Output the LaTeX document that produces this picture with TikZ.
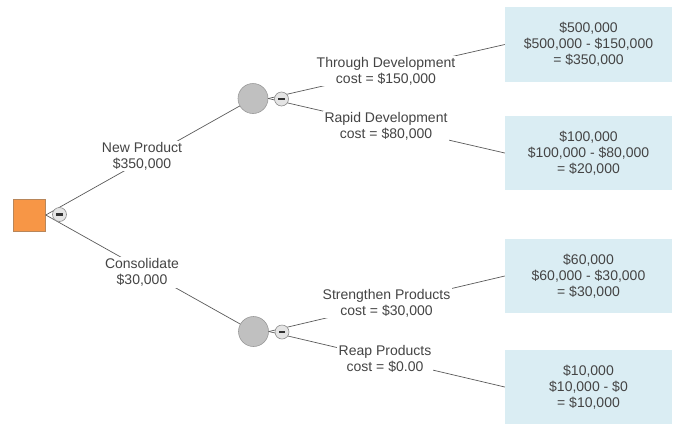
\documentclass[tikz,border=0pt]{standalone}
\usepackage{fontspec}
\setmainfont{Liberation Sans}
\definecolor{txt}{HTML}{444444}
\definecolor{linec}{HTML}{5A5A5A}
\definecolor{boxc}{HTML}{DAEDF3}
\definecolor{orangec}{HTML}{F79646}
\definecolor{oranged}{HTML}{B8865A}
\definecolor{chc}{HTML}{C0C0C0}
\definecolor{chd}{HTML}{9A9A9A}
\definecolor{tgc}{HTML}{E4E4E4}
\definecolor{tgd}{HTML}{8E8E8E}
\begin{document}
\begin{tikzpicture}[x=1pt,y=-1pt,
  every node/.style={font=\fontsize{14}{16}\selectfont, text=txt},
  conn/.style={draw=linec, line width=0.7pt},
  lbl/.style={fill=white, align=center, inner sep=1.5pt},
  outbox/.style={fill=boxc, minimum width=167pt, minimum height=74.5pt, align=center, inner sep=0pt},
  decision/.style={rectangle, fill=orangec, draw=oranged, line width=0.6pt, minimum size=32pt, inner sep=0pt},
  chance/.style={circle, fill=chc, draw=chd, line width=0.6pt, minimum size=30pt, inner sep=0pt},
  toggle/.style={circle, fill=tgc, draw=tgd, line width=0.6pt, minimum size=14pt, inner sep=0pt,
    path picture={\fill[black!80] ([xshift=-3.2pt,yshift=-1.2pt]path picture bounding box.center) rectangle ([xshift=3.2pt,yshift=1.4pt]path picture bounding box.center);}},
]
\useasboundingbox (0,0) rectangle (690,432);
% main nodes
\node[decision] (d) at (29.5,215) {};
\node[chance] (c1) at (253,98.5) {};
\node[chance] (c2) at (253.5,331.5) {};
\node[outbox] (b1) at (588.5,44.5) {\$500,000\\\$500,000 - \$150,000\\= \$350,000};
\node[outbox] (b2) at (588.5,153) {\$100,000\\\$100,000 - \$80,000\\= \$20,000};
\node[outbox] (b3) at (588.5,276) {\$60,000\\\$60,000 - \$30,000\\= \$30,000};
\node[outbox] (b4) at (588.5,387) {\$10,000\\\$10,000 - \$0\\= \$10,000};
% connectors
\draw[conn] (d.east) -- (c1);
\draw[conn] (d.east) -- (c2);
\draw[conn] (c1.east) -- (b1.west);
\draw[conn] (c1.east) -- (b2.west);
\draw[conn] (c2.east) -- (b3.west);
\draw[conn] (c2.east) -- (b4.west);
% toggles
\node[toggle] (t0) at (59.5,214.5) {};
\node[toggle] (t1) at (281.5,99) {};
\node[toggle] (t2) at (282,332) {};
% labels
\node[lbl] (l1) at (142,156) {New Product\\\$350,000};
\node[lbl] (l2) at (142,272.5) {Consolidate\\\$30,000};
\node[lbl] (l3) at (386,71) {Through Development\\cost = \$150,000};
\node[lbl] (l4) at (386,126) {Rapid Development\\cost = \$80,000};
\node[lbl] (l5) at (386.5,303) {Strengthen Products\\cost = \$30,000};
\node[lbl] (l6) at (385,359) {Reap Products\\cost = \$0.00};
\end{tikzpicture}
\end{document}
